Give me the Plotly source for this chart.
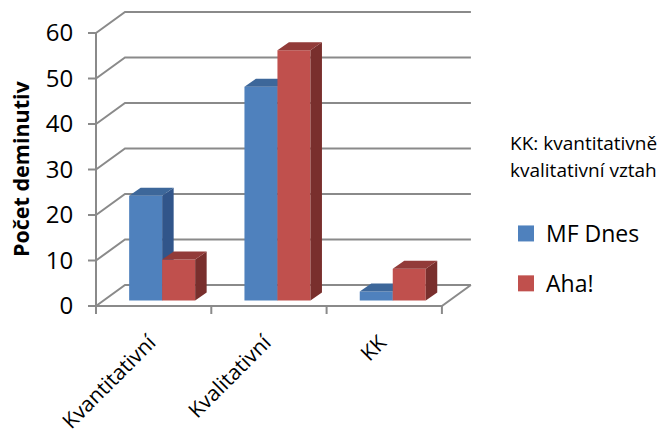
import plotly.graph_objects as go

# ---------------- data ----------------
categories = ["Kvantitativní", "Kvalitativní", "KK"]
mf_dnes = [23, 47, 2]
aha = [9, 55, 7]
series_names = ["MF Dnes", "Aha!"]
y_ticks = [0, 10, 20, 30, 40, 50, 60]
y_title = "Počet deminutiv"
note_lines = ["KK: kvantitativně", "kvalitativní vztah"]

# ---------------- styling / geometry ----------------
FONT = "Open Sans"
GRID = "#8a8a8a"
BLUE = dict(front="#4F81BD", top="#3D679A", side="#31558A")
RED = dict(front="#C0504D", top="#923B39", side="#792F2D")

PX_CAT = 115.3     # pixels per category
PX_UNIT = 4.55     # pixels per value unit
L, R, T, B = 88, 184, 8, 120
W_PLOT = 658 - L - R
H_PLOT = 436 - T - B
FRONT_ZERO_PX = 306
X0 = 0.5 - 8 / PX_CAT
X1 = X0 + W_PLOT / PX_CAT
Y1 = (FRONT_ZERO_PX - T) / PX_UNIT
Y0 = Y1 - H_PLOT / PX_UNIT

DX, DY = 29 / PX_CAT, 21 / PX_UNIT          # depth of the whole box
OX, OY = 8.5 / PX_CAT, 5.5 / PX_UNIT        # bar front offset into the box
BDX, BDY = 11.5 / PX_CAT, 8 / PX_UNIT       # bar depth
BW = 33 / PX_CAT                            # bar width
TICK_X, TICK_Y = 8 / PX_CAT, 8 / PX_UNIT
LABEL_SHIFT = 4 / PX_CAT

n = len(categories)
cats_x = [i + 1 for i in range(n)]
left_edge, right_edge = 0.5, n + 0.5

# ---------------- frame (walls, floor, ticks) ----------------
gx, gy = [], []
for t in y_ticks:
    gx += [left_edge, left_edge + DX, right_edge + DX, None]
    gy += [t, t + DY, t + DY, None]
gx += [left_edge, right_edge, right_edge + DX, None]
gy += [0, 0, DY, None]
gx += [left_edge, left_edge, None]
gy += [0, y_ticks[-1], None]
for t in y_ticks:
    gx += [left_edge - TICK_X, left_edge, None]
    gy += [t, t, None]
for i in range(n + 1):
    b = 0.5 + i
    gx += [b, b, None]
    gy += [0, -TICK_Y, None]

fig = go.Figure()
fig.add_trace(go.Scatter(x=gx, y=gy, mode="lines", line=dict(color=GRID, width=2),
                         hoverinfo="skip", showlegend=False, xaxis="x", yaxis="y"))


def add_bars(vals, side, colors, name, xa, ya):
    centers = [c + OX + side * BW / 2 for c in cats_x]
    fig.add_trace(go.Bar(x=centers, y=vals, base=OY, width=BW, name=name,
                         marker=dict(color=colors["front"], line=dict(width=0)),
                         showlegend=False, xaxis=xa, yaxis=ya))
    sx, sy, tx, ty = [], [], [], []
    for c, v in zip(centers, vals):
        xl, xr, top = c - BW / 2, c + BW / 2, OY + v
        tx += [xl, xr, xr + BDX, xl + BDX, xl, None]
        ty += [top, top, top + BDY, top + BDY, top, None]
        sx += [xr, xr + BDX, xr + BDX, xr, xr, None]
        sy += [OY, OY + BDY, top + BDY, top, OY, None]
    fig.add_trace(go.Scatter(x=sx, y=sy, mode="lines", fill="toself", fillcolor=colors["side"],
                             line=dict(width=0, color=colors["side"]), hoverinfo="skip",
                             showlegend=False, xaxis=xa, yaxis=ya))
    fig.add_trace(go.Scatter(x=tx, y=ty, mode="lines", fill="toself", fillcolor=colors["top"],
                             line=dict(width=0, color=colors["top"]), hoverinfo="skip",
                             showlegend=False, xaxis=xa, yaxis=ya))


add_bars(mf_dnes, -1, BLUE, series_names[0], "x2", "y2")
add_bars(aha, +1, RED, series_names[1], "x3", "y3")

# legend entries
for nm, col, grp in [(series_names[0], BLUE["front"], "a"), (series_names[1], RED["front"], "b")]:
    fig.add_trace(go.Scatter(x=[None], y=[None], mode="markers", name=nm, legendgroup=grp,
                             marker=dict(symbol="square", size=18, color=col),
                             xaxis="x", yaxis="y"))


def px_to_paper(px, py):
    return (px - L) / W_PLOT, (T + H_PLOT - py) / H_PLOT


annotations = []
ax, ay = px_to_paper(20, 169)
annotations.append(dict(text="<b>" + y_title + "</b>", x=ax, y=ay, xref="paper", yref="paper",
                        textangle=-90, showarrow=False, xanchor="center", yanchor="middle",
                        font=dict(family=FONT, size=21.5, color="black")))
for line, py in zip(note_lines, [143, 170]):
    nx, ny = px_to_paper(508, py)
    annotations.append(dict(text=line, x=nx, y=ny, xref="paper", yref="paper", showarrow=False,
                            xanchor="left", yanchor="middle",
                            font=dict(family=FONT, size=19, color="black")))

lgx, lgy = px_to_paper(506, 212)

hidden = dict(range=[X0, X1], visible=False, fixedrange=True, automargin=False)
hiddeny = dict(range=[Y0, Y1], visible=False, fixedrange=True, automargin=False)
fig.update_layout(
    template="none",
    width=658, height=436, autosize=False,
    margin=dict(l=L, r=R, t=T, b=B, pad=0),
    paper_bgcolor="white", plot_bgcolor="rgba(0,0,0,0)",
    font=dict(family=FONT, size=22, color="black"),
    barmode="overlay",
    showlegend=True,
    legend=dict(x=lgx, y=lgy, xanchor="left", yanchor="top", tracegroupgap=17,
                font=dict(family=FONT, size=23, color="black"), bgcolor="rgba(0,0,0,0)"),
    xaxis=dict(range=[X0, X1], tickmode="array", tickvals=[c - LABEL_SHIFT for c in cats_x],
               ticktext=categories,
               tickangle=-45, showgrid=False, zeroline=False, showline=False, automargin=False,
               ticks="outside", ticklen=5, tickcolor="rgba(0,0,0,0)", fixedrange=True,
               tickfont=dict(family=FONT, size=21)),
    yaxis=dict(range=[Y0, Y1], tickmode="array", tickvals=y_ticks, showgrid=False, automargin=False,
               zeroline=False, showline=False, ticks="outside", ticklen=9,
               tickcolor="rgba(0,0,0,0)", fixedrange=True, tickfont=dict(family=FONT, size=24)),
    xaxis2=dict(hidden, overlaying="x", anchor="y2"),
    yaxis2=dict(hiddeny, overlaying="y", anchor="x2"),
    xaxis3=dict(hidden, overlaying="x", anchor="y3"),
    yaxis3=dict(hiddeny, overlaying="y", anchor="x3"),
    annotations=annotations,
)

fig.write_html("out.html", config={"displayModeBar": False})
